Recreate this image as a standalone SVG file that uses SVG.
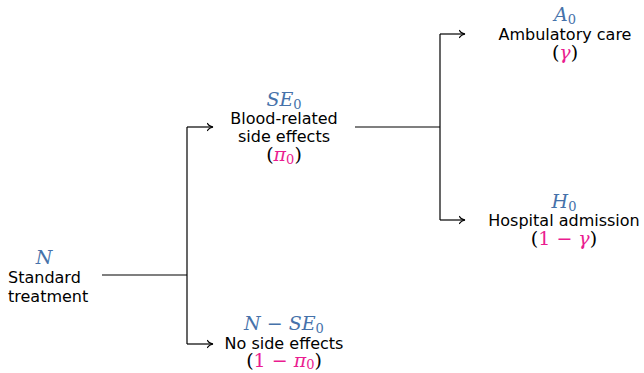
<svg xmlns="http://www.w3.org/2000/svg" width="644" height="373" viewBox="0 0 644 373">
<style>
.t{font-family:"DejaVu Sans",sans-serif;font-size:16px;fill:#000}
.m{font-family:"DejaVu Serif",serif;font-size:19px;fill:#000}
.i{font-style:italic}
.b{fill:#4672aa}
.p{fill:#ea1c90}
.s{font-size:13px;font-style:normal}
.c{fill:none;stroke:#000;stroke-width:1.2}
</style>
<defs>
<marker id="ar" markerUnits="userSpaceOnUse" markerWidth="12" markerHeight="12" refX="0" refY="0" viewBox="-8 -6 10 12" orient="auto">
<path d="M -5.5 -3.6 C -4.5 -1.6 -2 -0.4 0 0 C -2 0.4 -4.5 1.6 -5.5 3.6" fill="none" stroke="#000" stroke-width="1.1" stroke-linecap="round"/>
</marker>
</defs>
<g id="connectors">
<path class="c" d="M 102 275 H 187"/>
<path class="c" d="M 187 127 V 344"/>
<path class="c" d="M 187 127 H 213" marker-end="url(#ar)"/>
<path class="c" d="M 187 344 H 213" marker-end="url(#ar)"/>
<path class="c" d="M 355 127 H 440"/>
<path class="c" d="M 440 34 V 220"/>
<path class="c" d="M 440 34 H 465" marker-end="url(#ar)"/>
<path class="c" d="M 440 220 H 465" marker-end="url(#ar)"/>
</g>
<g id="node-N">
<text class="m i b" x="44" y="264" text-anchor="middle">N</text>
<text class="t" x="8" y="283">Standard</text>
<text class="t" x="8" y="302">treatment</text>
</g>
<g id="node-SE0">
<text class="m b" x="284" y="106" text-anchor="middle"><tspan class="i">SE</tspan><tspan class="s" dy="3">0</tspan></text>
<text class="t" x="284" y="124" text-anchor="middle">Blood-related</text>
<text class="t" x="284" y="142" text-anchor="middle">side effects</text>
<text class="m" x="284" y="161" text-anchor="middle">(<tspan class="i p">π</tspan><tspan class="s p" dy="3">0</tspan><tspan dy="-3">)</tspan></text>
</g>
<g id="node-NoSE">
<text class="m b" x="284" y="330" text-anchor="middle"><tspan class="i">N</tspan> − <tspan class="i">SE</tspan><tspan class="s" dy="3">0</tspan></text>
<text class="t" x="284" y="349" text-anchor="middle">No side effects</text>
<text class="m" x="284" y="367" text-anchor="middle">(<tspan class="p">1 − </tspan><tspan class="i p">π</tspan><tspan class="s p" dy="2">0</tspan><tspan dy="-2">)</tspan></text>
</g>
<g id="node-A0">
<text class="m b" x="565" y="21" text-anchor="middle"><tspan class="i">A</tspan><tspan class="s" dy="3">0</tspan></text>
<text class="t" x="565" y="40" text-anchor="middle">Ambulatory care</text>
<text class="m" x="565" y="59" text-anchor="middle">(<tspan class="i p">γ</tspan>)</text>
</g>
<g id="node-H0">
<text class="m b" x="564" y="208" text-anchor="middle"><tspan class="i">H</tspan><tspan class="s" dy="3">0</tspan></text>
<text class="t" x="564" y="226" text-anchor="middle">Hospital admission</text>
<text class="m" x="564" y="245" text-anchor="middle">(<tspan class="p">1 − </tspan><tspan class="i p">γ</tspan>)</text>
</g>
</svg>
